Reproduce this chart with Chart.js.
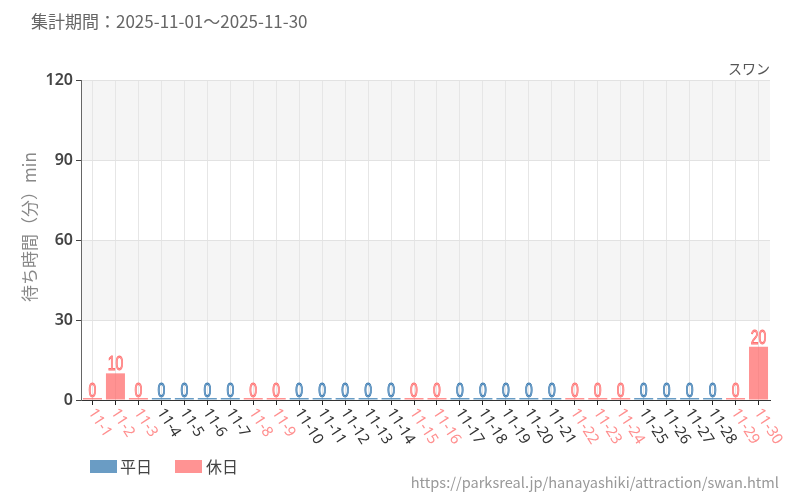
<!DOCTYPE html>
<html>
<head>
<meta charset="utf-8">
<script src="https://cdn.jsdelivr.net/npm/chart.js@4"></script>
<style>
  body { margin: 0; background: #fff; }
  canvas { display: block; }
</style>
</head>
<body>
<canvas id="myChart" width="800" height="500"></canvas>
<script>
// 2025年11月のスワン待ち時間
const days = [
    "11-1", "11-2", "11-3", "11-4", "11-5", "11-6", "11-7", "11-8", "11-9", "11-10",
    "11-11", "11-12", "11-13", "11-14", "11-15", "11-16", "11-17", "11-18", "11-19", "11-20",
    "11-21", "11-22", "11-23", "11-24", "11-25", "11-26", "11-27", "11-28", "11-29", "11-30",
];
const isHoliday = [
    1, 1, 1, 0, 0, 0, 0, 1, 1, 0,
    0, 0, 0, 0, 1, 1, 0, 0, 0, 0,
    0, 1, 1, 1, 0, 0, 0, 0, 1, 1,
];
const waitMinutes = [
    0, 10, 0, 0, 0, 0, 0, 0, 0, 0,
    0, 0, 0, 0, 0, 0, 0, 0, 0, 0,
    0, 0, 0, 0, 0, 0, 0, 0, 0, 20,
];
const yTicks = [0, 30, 60, 90, 120];

const weekdayData = waitMinutes.map((v, i) => (isHoliday[i] ? null : v));
const holidayData = waitMinutes.map((v, i) => (isHoliday[i] ? v : null));

const BLUE = "rgba(42, 114, 171, 0.7)";
const PINK = "rgba(255, 100, 100, 0.7)";

// 背景の縞模様
const bandPlugin = {
    id: "bands",
    beforeDraw(chart) {
        const { ctx, chartArea, scales } = chart;
        const y = scales.y;
        ctx.save();
        ctx.fillStyle = "#f5f5f5";
        [[90, 120], [30, 60]].forEach(([lo, hi]) => {
            const top = y.getPixelForValue(hi);
            const bottom = y.getPixelForValue(lo);
            ctx.fillRect(chartArea.left, top, chartArea.right - chartArea.left, bottom - top);
        });
        ctx.restore();
    },
};

// 文字まわり（タイトル、軸ラベル、凡例、値）
const textPlugin = {
    id: "texts",
    afterDraw(chart) {
        const { ctx, chartArea, scales } = chart;
        const x = scales.x;
        const y = scales.y;
        const jp = '"Noto Sans CJK JP", "Noto Sans", sans-serif';
        ctx.save();

        ctx.fillStyle = "#666";
        ctx.font = "17px " + jp;
        ctx.textAlign = "left";
        ctx.textBaseline = "middle";
        ctx.fillText("集計期間：2025-11-01～2025-11-30", 31, 22);

        ctx.fillStyle = "#555";
        ctx.font = "14px " + jp;
        ctx.textAlign = "right";
        ctx.fillText("スワン", 770, 69);

        ctx.save();
        ctx.translate(30, 227);
        ctx.rotate(-Math.PI / 2);
        ctx.fillStyle = "#888";
        ctx.font = "17px " + jp;
        ctx.textAlign = "center";
        ctx.fillText("待ち時間（分）min", 0, 0);
        ctx.restore();

        // x軸ラベル（右下がり）
        ctx.font = '15px "Noto Sans", sans-serif';
        ctx.textAlign = "left";
        ctx.textBaseline = "middle";
        days.forEach((d, i) => {
            const px = x.getPixelForValue(i);
            ctx.save();
            ctx.translate(px - 1, chartArea.bottom + 10);
            ctx.rotate((57 * Math.PI) / 180);
            ctx.fillStyle = isHoliday[i] ? "#ff8f8f" : "#333";
            ctx.fillText(d, 0, 0);
            ctx.restore();
        });

        // 値ラベル（細い字）
        ctx.font = '20px "Liberation Sans", sans-serif';
        ctx.textAlign = "center";
        ctx.textBaseline = "alphabetic";
        ctx.lineWidth = 0.9;
        waitMinutes.forEach((v, i) => {
            const px = x.getPixelForValue(i);
            const py = y.getPixelForValue(v) - 3;
            ctx.save();
            ctx.translate(px, py);
            ctx.scale(0.7, 1);
            ctx.fillStyle = isHoliday[i] ? "#ffb0b0" : "#8db4d6";
            ctx.strokeStyle = isHoliday[i] ? "#ff7070" : "#3a7ab0";
            ctx.fillText(String(v), 0, 0);
            ctx.strokeText(String(v), 0, 0);
            ctx.restore();
        });

        // 凡例
        ctx.font = "16px " + jp;
        ctx.textAlign = "left";
        ctx.textBaseline = "middle";
        ctx.fillStyle = "#6a9cc4";
        ctx.fillRect(90, 460, 27, 13);
        ctx.fillStyle = "#444";
        ctx.fillText("平日", 120, 467);
        ctx.fillStyle = "#ff9393";
        ctx.fillRect(175, 460, 27, 13);
        ctx.fillStyle = "#444";
        ctx.fillText("休日", 206, 467);

        ctx.fillStyle = "#999";
        ctx.font = '14.6px "Noto Sans CJK JP", sans-serif';
        ctx.textAlign = "right";
        ctx.fillText("https://parksreal.jp/hanayashiki/attraction/swan.html", 779, 482);

        ctx.restore();
    },
};

const ctx = document.getElementById("myChart");
const config = {
    type: "bar",
    data: {
        labels: days,
        datasets: [
            {
                label: "平日",
                data: weekdayData,
                backgroundColor: BLUE,
                minBarLength: 2,
            },
            {
                label: "休日",
                data: holidayData,
                backgroundColor: PINK,
                minBarLength: 2,
            },
        ],
    },
    options: {
        responsive: false,
        animation: false,
        layout: {
            padding: { left: 0, top: 80, right: 30, bottom: 0 },
        },
        datasets: {
            bar: { barPercentage: 0.9, categoryPercentage: 0.92 },
        },
        plugins: {
            legend: { display: false },
            title: { display: false },
            tooltip: { enabled: false },
        },
        scales: {
            x: {
                stacked: true,
                grid: {
                    offset: false,
                    color: "#e6e6e6",
                    tickColor: "#222",
                    tickLength: 5,
                },
                border: { color: "#333" },
                ticks: { display: false, autoSkip: false },
                afterFit(scale) {
                    scale.height = 100;
                },
            },
            y: {
                stacked: true,
                min: 0,
                max: 120,
                afterBuildTicks(scale) {
                    scale.ticks = yTicks.map((v) => ({ value: v }));
                },
                grid: {
                    color: "#e2e2e2",
                    tickColor: "#444",
                    tickLength: 5,
                },
                border: { color: "#666" },
                ticks: {
                    color: "#444",
                    padding: 3,
                    font: { family: "Noto Sans", size: 16, weight: 600 },
                },
                afterFit(scale) {
                    scale.width = 81;
                },
            },
        },
    },
    plugins: [bandPlugin, textPlugin],
};
const myChart = new Chart(ctx, config);
</script>
</body>
</html>
